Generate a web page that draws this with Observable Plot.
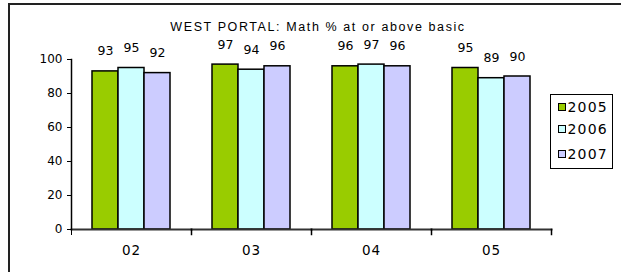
<!DOCTYPE html>
<html>
<head>
<meta charset="utf-8">
<script src="https://cdn.jsdelivr.net/npm/d3@7"></script>
<script src="https://cdn.jsdelivr.net/npm/@observablehq/plot@0.6"></script>
<style>
  html, body { margin: 0; padding: 0; background: #fff; }
  body { width: 621px; height: 272px; position: relative; overflow: hidden; font-family: "Liberation Sans", Arial, sans-serif; }
  #border { position: absolute; left: 8px; top: 3px; width: 700px; height: 400px; border: 2px solid #222; box-sizing: border-box; }
  #chart { position: absolute; left: 0; top: 0; }
  #title { position: absolute; left: 0; width: 636px; top: 20px; text-align: center; font-size: 12.5px; line-height: 14px; color: #000; letter-spacing: 1.6px; }
  #legend { position: absolute; left: 550px; top: 94px; width: 63px; height: 75px; border: 1.5px solid #000; box-sizing: border-box; background: #fff; font-family: "DejaVu Sans", sans-serif; font-size: 14px; }
  .item { position: absolute; left: 6.5px; height: 16px; display: flex; align-items: center; white-space: nowrap; letter-spacing: 1.2px; }
  .sw { display: inline-block; width: 8px; height: 8px; border: 1px solid #000; box-sizing: border-box; margin-right: 2px; }
</style>
</head>
<body>
<div id="border"></div>
<div id="chart"></div>
<div id="title"></div>
<div id="legend"></div>
<script>
const title = "WEST PORTAL: Math % at or above basic";
const grades = ["02", "03", "04", "05"];
const years = ["2005", "2006", "2007"];
const colors = ["#99cc00", "#ccffff", "#ccccff"];
const values2005 = [93, 97, 96, 95];
const values2006 = [95, 94, 97, 89];
const values2007 = [92, 96, 96, 90];
const yTicks = [0, 20, 40, 60, 80, 100];

const series = [values2005, values2006, values2007];
const data = [];
grades.forEach((g, i) => years.forEach((yr, j) => data.push({grade: g, year: yr, value: series[j][i]})));

const plot = Plot.plot({
  width: 621,
  height: 272,
  marginLeft: 70,
  marginRight: 69,
  marginTop: 59,
  marginBottom: 43,
  style: {fontFamily: "'DejaVu Sans', sans-serif", fontSize: "12px", color: "#000", background: "transparent"},
  fx: {domain: grades, padding: 0, label: null},
  x: {domain: years, paddingInner: 0, paddingOuter: 0.75, axis: null},
  y: {domain: [0, 100], ticks: yTicks, label: null},
  color: {domain: years, range: colors},
  marks: [
    Plot.barY(data, {fx: "grade", x: "year", y: "value", fill: "year", stroke: "#000", strokeWidth: 1.5, inset: 0}),
    Plot.text(data, {fx: "grade", x: "year", y: "value", text: d => String(d.value), dy: -20, fontSize: 12.5, fill: "#000"}),
    Plot.frame({anchor: "bottom", stroke: "#333", strokeWidth: 2}),
    Plot.frame({anchor: "left", insetTop: 170, insetBottom: -5, stroke: "#000", strokeWidth: 1}),
    Plot.frame({anchor: "right", insetTop: 170, insetBottom: -5, stroke: "#000", strokeWidth: 1.5}),
    Plot.frame({anchor: "left", facetAnchor: "left", stroke: "#000", strokeWidth: 1.5}),
    Plot.axisY({ticks: yTicks, tickSize: 4, tickPadding: 5, fontSize: 12, anchor: "left", label: null}),
    Plot.axisFx({anchor: "bottom", tickSize: 0, tickPadding: 16, fontSize: 13.5, label: null})
  ]
});
document.getElementById("chart").appendChild(plot);
document.getElementById("title").textContent = title;

d3.select(plot).selectAll("g[aria-label='fx-axis tick label'] text").style("letter-spacing", "1px");

const legend = document.getElementById("legend");
const tops = [4, 26, 51];
years.forEach((yr, j) => {
  const it = document.createElement("div");
  it.className = "item";
  it.style.top = tops[j] + "px";
  const sw = document.createElement("span");
  sw.className = "sw";
  sw.style.background = colors[j];
  it.appendChild(sw);
  it.appendChild(document.createTextNode(yr));
  legend.appendChild(it);
});
</script>
</body>
</html>
